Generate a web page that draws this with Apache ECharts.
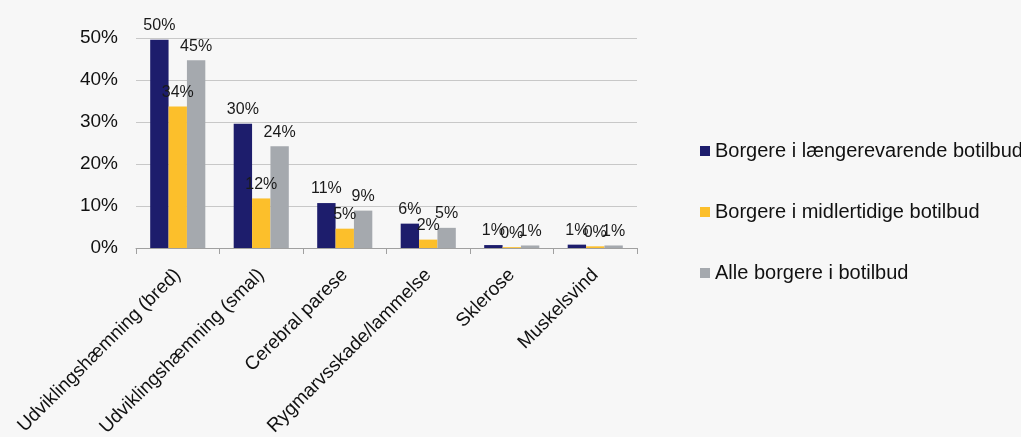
<!DOCTYPE html>
<html><head><meta charset="utf-8">
<script src="https://cdn.jsdelivr.net/npm/echarts@6/dist/echarts.min.js"></script>
<style>html,body{margin:0;padding:0;background:#f7f7f7;}#c{width:1021px;height:437px;}</style>
</head><body><div id="c"></div>
<script>
const categories = ["Udviklingshæmning (bred)", "Udviklingshæmning (smal)", "Cerebral parese", "Rygmarvsskade/lammelse", "Sklerose", "Muskelsvind"];
const seriesNames = ["Borgere i længerevarende botilbud", "Borgere i midlertidige botilbud", "Alle borgere i botilbud"];
const longTerm = [49.6, 29.6, 10.7, 5.8, 0.7, 0.8];
const temporary = [33.7, 11.8, 4.6, 2.0, 0.2, 0.4];
const allCitizens = [44.7, 24.2, 8.9, 4.8, 0.6, 0.6];
const yTicks = [0, 10, 20, 30, 40, 50];
const colors = ["#1d1d6c", "#fcbf2b", "#a5a9ae"];

const chart = echarts.init(document.getElementById('c'), null, {renderer: 'canvas'});
const font = "Liberation Sans, Arial, sans-serif";
function mk(name, data, color) {
  return {
    name: name, type: 'bar', data: data, barGap: '0%', barCategoryGap: '34%',
    itemStyle: {color: color},
    label: {show: true, position: 'top', distance: 6, color: '#1a1a1a', fontFamily: font, fontSize: 16,
      formatter: p => Math.round(p.value) + '%'},
    emphasis: {disabled: true}
  };
}
chart.setOption({
  backgroundColor: '#f7f7f7',
  animation: false,
  textStyle: {fontFamily: font},
  grid: {left: 136, right: 384, top: 38, bottom: 189, containLabel: false, outerBoundsMode: 'none'},
  legend: {
    orient: 'vertical', left: 695, top: 136, itemGap: 41, itemWidth: 10, itemHeight: 10,
    icon: 'rect', data: seriesNames,
    textStyle: {fontFamily: font, fontSize: 20, color: '#111'}
  },
  xAxis: {
    type: 'category', data: categories,
    axisLine: {lineStyle: {color: '#a0a0a0'}},
    axisTick: {show: true, length: 6, lineStyle: {color: '#a0a0a0'}},
    axisLabel: {rotate: 45, interval: 0, fontFamily: font, fontSize: 19, color: '#111', margin: 24}
  },
  yAxis: {
    type: 'value', min: yTicks[0], max: yTicks[yTicks.length - 1], interval: 10,
    axisLine: {show: false}, axisTick: {show: false},
    splitLine: {lineStyle: {color: '#c8c8c8'}},
    axisLabel: {formatter: v => v + '%', fontFamily: font, fontSize: 19, color: '#111', margin: 18}
  },
  series: [mk(seriesNames[0], longTerm, colors[0]), mk(seriesNames[1], temporary, colors[1]), mk(seriesNames[2], allCitizens, colors[2])]
});
</script></body></html>
